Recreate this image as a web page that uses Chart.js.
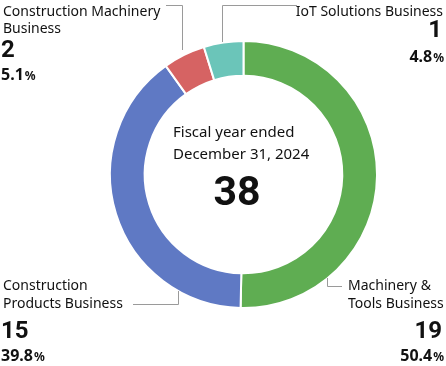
<!DOCTYPE html>
<html>
<head>
<meta charset="utf-8">
<script src="https://cdn.jsdelivr.net/npm/chart.js@4"></script>
<style>
  html, body { margin: 0; padding: 0; background: #fff; }
  canvas { display: block; }
</style>
</head>
<body>
<canvas id="segmentChart" width="446" height="366"></canvas>
<script>
// segment data, clockwise from the top
var categories = [
    ["Machinery &", "Tools Business"],
    ["Construction", "Products Business"],
    ["Construction Machinery", "Business"],
    ["IoT Solutions Business"]
];
var counts = [19, 15, 2, 1];
var shares = [50.4, 39.8, 5.1, 4.8];
var colors = ["#5fad52", "#5f79c4", "#d66363", "#6bc5b9"];
var totalLabel = "38";
var centerLines = ["Fiscal year ended", "December 31, 2024"];

var labelFont = '14px "Noto Sans"';
var numFont = 'bold 24px Roboto';
var pctFont = 'bold 16px "Noto Sans"';
var pctSignFont = 'bold 12px "Noto Sans"';

function drawPct(ctx, text, x, y, align) {
    ctx.font = pctFont;
    var w1 = ctx.measureText(text).width;
    ctx.font = pctSignFont;
    var w2 = ctx.measureText("%").width;
    var start = align === "right" ? x - w1 - w2 : x;
    ctx.textAlign = "left";
    ctx.font = pctFont;
    ctx.fillText(text, start, y);
    ctx.font = pctSignFont;
    ctx.fillText("%", start + w1 + 1, y);
}

var labelPlugin = {
    id: "segmentLabels",
    afterDraw: function (chart) {
        var ctx = chart.ctx;
        ctx.save();
        ctx.fillStyle = "#111";
        ctx.textBaseline = "alphabetic";

        // leader lines
        ctx.strokeStyle = "#9a9a9a";
        ctx.lineWidth = 1;
        ctx.beginPath();
        ctx.moveTo(166, 5.5); ctx.lineTo(182.5, 5.5); ctx.lineTo(182.5, 50);
        ctx.moveTo(222.5, 42); ctx.lineTo(222.5, 5.5); ctx.lineTo(297, 5.5);
        ctx.moveTo(133, 304.5); ctx.lineTo(178.5, 304.5); ctx.lineTo(178.5, 291);
        ctx.moveTo(327.5, 278); ctx.lineTo(327.5, 286.5); ctx.lineTo(342, 286.5);
        ctx.stroke();

        // Construction Machinery (top left)
        ctx.font = labelFont;
        ctx.textAlign = "left";
        ctx.fillText(categories[2][0], 3, 16);
        ctx.fillText(categories[2][1], 3, 33);
        ctx.font = numFont;
        ctx.fillText(String(counts[2]), 1, 57);
        drawPct(ctx, shares[2].toFixed(1), 1, 80, "left");

        // IoT (top right)
        ctx.font = labelFont;
        ctx.textAlign = "right";
        ctx.fillText(categories[3][0], 443, 16);
        ctx.font = numFont;
        ctx.fillText(String(counts[3]), 442, 37);
        drawPct(ctx, shares[3].toFixed(1), 443, 62, "right");

        // Construction Products (bottom left)
        ctx.font = labelFont;
        ctx.textAlign = "left";
        ctx.fillText(categories[1][0], 3, 290);
        ctx.fillText(categories[1][1], 3, 308);
        ctx.font = numFont;
        ctx.fillText(String(counts[1]), 1, 338);
        drawPct(ctx, shares[1].toFixed(1), 1, 361, "left");

        // Machinery & Tools (bottom right)
        ctx.font = labelFont;
        ctx.textAlign = "left";
        ctx.fillText(categories[0][0], 348, 290);
        ctx.fillText(categories[0][1], 348, 308);
        ctx.font = numFont;
        ctx.textAlign = "right";
        ctx.fillText(String(counts[0]), 442, 338);
        drawPct(ctx, shares[0].toFixed(1), 443, 361, "right");

        // center block, left aligned
        ctx.textAlign = "left";
        ctx.font = '15px "Noto Sans"';
        ctx.fillText(centerLines[0], 173, 137);
        ctx.fillText(centerLines[1], 173, 159);
        ctx.textAlign = "center";
        ctx.font = 'bold 41px Roboto';
        ctx.fillText(totalLabel, 237, 205);
        ctx.restore();
    }
};

var ctx = document.getElementById("segmentChart").getContext("2d");
var segmentChart = new Chart(ctx, {
    type: "doughnut",
    data: {
        labels: categories.map(function (c) { return c.join(" "); }),
        datasets: [
            {
                data: shares,
                backgroundColor: colors,
                borderColor: "#ffffff",
                borderWidth: 2,
                hoverBorderWidth: 2,
                hoverOffset: 0,
            },
        ],
    },
    options: {
        responsive: false,
        animation: false,
        cutout: "74%",
        layout: {
            padding: { left: 109, right: 68, top: 40, bottom: 57 },
        },
        plugins: {
            legend: { display: false },
            tooltip: { enabled: false },
        },
    },
    plugins: [labelPlugin],
});
</script>
</body>
</html>
